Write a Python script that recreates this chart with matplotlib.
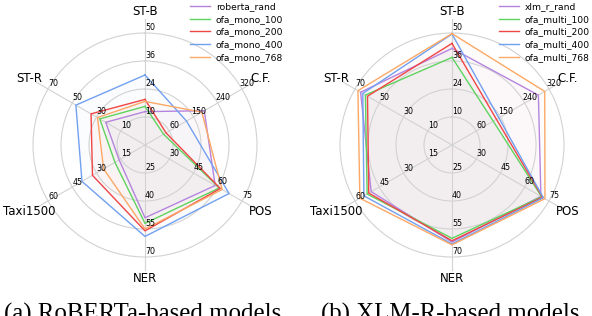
import numpy as np
import matplotlib
matplotlib.use('Agg')
import matplotlib.pyplot as plt

# ---------------- data ----------------
axis_names = ['ST-B', 'C.F.', 'POS', 'NER', 'Taxi1500', 'ST-R']

stb_ticks = [10, 24, 36, 50]
cf_ticks = [60, 150, 240, 320]
pos_ticks = [30, 45, 60, 75]
ner_ticks = [25, 40, 55, 70]
taxi_ticks = [15, 30, 45, 60]
str_ticks = [10, 30, 50, 70]

# panel (a): RoBERTa-based
labels_a = ['roberta_rand', 'ofa_mono_100', 'ofa_mono_200', 'ofa_mono_400', 'ofa_mono_768']
roberta_rand = [12.7, 190, 58.4, 49.0, 16.0, 22.4]
ofa_mono_100 = [15.3, 39, 61.0, 52.0, 18.6, 27.3]
ofa_mono_200 = [18.8, 48, 61.6, 56.0, 32.5, 34.5]
ofa_mono_400 = [30.0, 124, 67.0, 59.0, 39.0, 47.0]
ofa_mono_768 = [17.8, 181, 62.7, 55.0, 25.6, 29.2]

# panel (b): XLM-R-based
labels_b = ['xlm_r_rand', 'ofa_multi_100', 'ofa_multi_200', 'ofa_multi_400', 'ofa_multi_768']
xlm_r_rand = [42.3, 285, 70.0, 62.0, 50.0, 65.4]
ofa_multi_100 = [37.8, 123, 70.5, 60.0, 52.5, 61.4]
ofa_multi_200 = [44.8, 135, 71.0, 61.3, 51.5, 59.7]
ofa_multi_400 = [49.5, 144, 71.5, 63.0, 54.5, 63.6]
ofa_multi_768 = [49.7, 306, 72.5, 63.5, 57.0, 67.6]

captions = ['(a) RoBERTa-based models', '(b) XLM-R-based models']

# ---------------- styling ----------------
colors = ['#b584de', '#5fd35f', '#f04646', '#72a0f0', '#fca866']
tick_lists = [stb_ticks, cf_ticks, pos_ticks, ner_ticks, taxi_ticks, str_ticks]
RMAX = 4.5


def to_radius(v, ticks):
    t = np.asarray(ticks, dtype=float)
    k = np.arange(1, len(t) + 1, dtype=float)
    if v < t[0]:
        return 1.0 + (v - t[0]) / (t[1] - t[0])
    if v > t[-1]:
        return k[-1] + (v - t[-1]) / (t[-1] - t[-2])
    return float(np.interp(v, t, k))


angles = np.arange(len(axis_names)) * 2 * np.pi / len(axis_names)

fig = plt.figure(figsize=(5.92, 3.16), dpi=100)
W, H = 592.0, 316.0
R_PX = 126.0
centers = [(145, 145), (452, 145)]
panels = [
    (labels_a, [roberta_rand, ofa_mono_100, ofa_mono_200, ofa_mono_400, ofa_mono_768], 190),
    (labels_b, [xlm_r_rand, ofa_multi_100, ofa_multi_200, ofa_multi_400, ofa_multi_768], 499),
]

for (cx, cy), (labs, series, leg_x), cap in zip(centers, panels, captions):
    ax = fig.add_axes([(cx - R_PX) / W, (H - cy - R_PX) / H, 2 * R_PX / W, 2 * R_PX / H],
                      projection='polar')
    ax.set_theta_offset(np.pi / 2)
    ax.set_theta_direction(-1)
    ax.set_ylim(0, RMAX)
    ax.set_yticks([1, 2, 3, 4])
    ax.set_yticklabels([])
    ax.set_xticks(angles)
    ax.set_xticklabels([])
    ax.grid(color='#d2d2d2', lw=0.8)
    ax.spines['polar'].set_visible(False)
    ax.set_facecolor('none')

    handles = []
    for vals, lab, c in zip(series, labs, colors):
        r = [to_radius(v, t) for v, t in zip(vals, tick_lists)]
        th = np.append(angles, angles[0])
        rr = np.append(r, r[0])
        ax.fill(th, rr, color=c, alpha=0.028, lw=0)
        h, = ax.plot(th, rr, color=c, lw=1.0, label=lab)
        handles.append(h)

    for ang, ticks in zip(angles, tick_lists):
        for k, tl in enumerate(ticks):
            ax.annotate(str(tl), xy=(ang, k + 1), xytext=(5, 5), textcoords='offset pixels',
                        ha='center', va='center', fontsize=5.7)

    for ang, name in zip(angles, axis_names):
        ax.text(ang, 4.78, name, ha='center', va='center', fontsize=8.5)

    ax.legend(handles=handles, loc='upper left', bbox_to_anchor=(leg_x / W, 0.993),
              bbox_transform=fig.transFigure, frameon=False, fontsize=6.6,
              handlelength=2.2, handletextpad=0.6, borderaxespad=0, borderpad=0,
              labelspacing=0.4)

    fig.text(cx / W - 2 / W, -0.016, cap, ha='center', va='baseline', fontsize=17.9,
             family='Liberation Serif')

fig.savefig('out.png', dpi=100)
